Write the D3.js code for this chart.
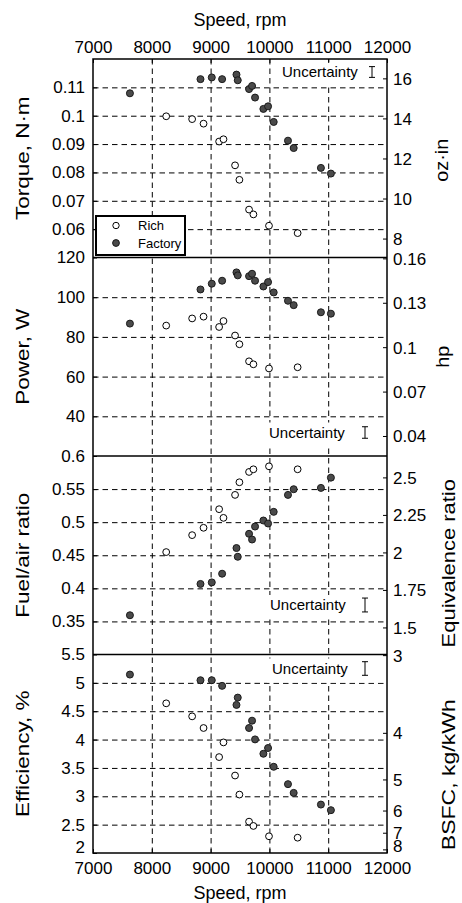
<!DOCTYPE html>
<html>
<head>
<meta charset="utf-8">
<script src="https://cdn.jsdelivr.net/npm/d3@7"></script>
<style>
  body { margin: 0; background: #fff; }
  svg { display: block; font-family: "Liberation Sans", Arial, Helvetica, sans-serif; }
</style>
</head>
<body>
<div id="chart"></div>
<script>
// engine speed of each test point, rpm
const speedRich = [8245, 8686, 8880, 9145, 9219, 9416, 9490, 9654, 9728, 9993, 10480];
const speedFactory = [7628, 8828, 9020, 9196, 9440, 9462, 9654, 9705, 9756, 9898, 9977, 10073, 10316, 10413, 10876, 11046];

// measured values
const torqueRich = [0.0998, 0.0988, 0.0972, 0.0909, 0.0917, 0.0825, 0.0774, 0.0669, 0.0652, 0.0612, 0.0586];
const torqueFactory = [0.1079, 0.1129, 0.1135, 0.1129, 0.1145, 0.1125, 0.1094, 0.1105, 0.1064, 0.1024, 0.1033, 0.0978, 0.0912, 0.0886, 0.0816, 0.0796];
const powerRich = [85.7, 89.3, 90.2, 85.0, 88.0, 80.7, 76.3, 67.7, 66.2, 64.1, 64.7];
const powerFactory = [86.7, 103.9, 106.8, 108.3, 112.5, 111.0, 110.6, 111.8, 108.3, 105.4, 107.6, 102.4, 98.2, 96.0, 92.4, 91.7];
const faRich = [0.4548, 0.4804, 0.4915, 0.5196, 0.5065, 0.5412, 0.5603, 0.5759, 0.5799, 0.5844, 0.5799];
const faFactory = [0.3593, 0.4066, 0.4090, 0.4221, 0.4609, 0.4477, 0.4824, 0.4738, 0.4934, 0.5025, 0.4980, 0.5156, 0.5412, 0.5498, 0.5518, 0.5673];
const effRich = [4.639, 4.409, 4.204, 3.691, 3.950, 3.366, 3.030, 2.553, 2.477, 2.295, 2.270];
const effFactory = [5.146, 5.046, 5.046, 4.947, 4.611, 4.740, 4.204, 4.333, 4.003, 3.750, 3.851, 3.520, 3.214, 3.060, 2.854, 2.755];

// half height of the "Uncertainty" bar in each panel, data units
const uncertainty = [0.0019, 2.9, 0.0105, 0.12];

// tick labels
const speedTicks = [7000, 8000, 9000, 10000, 11000, 12000];
const torqueTicks = [0.06, 0.07, 0.08, 0.09, 0.1, 0.11];
const ozinTicks = [8, 10, 12, 14, 16];
const powerTicks = [40, 60, 80, 100, 120];
const hpTicks = [0.04, 0.07, 0.1, 0.13, 0.16];
const faTicks = [0.35, 0.4, 0.45, 0.5, 0.55, 0.6];
const phiTicks = [1.5, 1.75, 2, 2.25, 2.5];
const effTicks = [2, 2.5, 3, 3.5, 4, 4.5, 5, 5.5];
const bsfcTicks = [3, 4, 5, 6, 7, 8];

const width = 462, height = 903;
const plotLeft = 93, plotRight = 387, plotTop = 59, plotBottom = 853;
const panelH = (plotBottom - plotTop) / 4;

const panels = [
  { domain: [0.05, 0.12], rich: torqueRich, factory: torqueFactory, ticks: torqueTicks,
    rTicks: ozinTicks, toLeft: v => v / 141.6, label: "Torque, N·m", rLabel: "oz·in",
    rx: 448, rdy: 2, rs: 1.1 },
  { domain: [20, 120], rich: powerRich, factory: powerFactory, ticks: powerTicks,
    rTicks: hpTicks, toLeft: v => v * 745.7, label: "Power, W", rLabel: "hp",
    rx: 449, rdy: 0, rs: 1.1 },
  { domain: [0.3, 0.6], rich: faRich, factory: faFactory, ticks: faTicks,
    rTicks: phiTicks, toLeft: v => v / 4.41, label: "Fuel/air ratio", rLabel: "Equivalence ratio",
    rx: 455, rdy: 8, rs: 1.22 },
  { domain: [2, 5.5], rich: effRich, factory: effFactory, ticks: effTicks,
    rTicks: bsfcTicks, toLeft: v => 16.44 / v, label: "Efficiency, %", rLabel: "BSFC, kg/kWh",
    rx: 455, rdy: 21, rs: 1.28 }
];
// where the uncertainty note sits in each panel: [text x, baseline y offset from panel top]
const notePos = [[282, 18], [269, 180], [270, 154], [272, 19]];

const svg = d3.select("#chart").append("svg")
  .attr("width", width).attr("height", height)
  .attr("viewBox", [0, 0, width, height]);

const x = d3.scaleLinear().domain([7000, 12000]).range([plotLeft, plotRight]);

// vertical grid
svg.append("g")
  .attr("transform", `translate(0,${plotBottom})`)
  .call(d3.axisBottom(x).tickValues([8000, 9000, 10000, 11000]).tickSize(-(plotBottom - plotTop)).tickFormat(""))
  .call(g => g.select(".domain").remove())
  .call(g => g.selectAll(".tick line").attr("stroke", "#000").attr("stroke-dasharray", "5.5,4"));

panels.forEach((p, i) => {
  const y0 = plotTop + i * panelH, y1 = y0 + panelH;
  const y = d3.scaleLinear().domain(p.domain).range([y1, y0]);
  const g = svg.append("g");

  // horizontal grid
  g.append("g")
    .attr("transform", `translate(${plotLeft},0)`)
    .call(d3.axisLeft(y).tickValues(p.ticks.filter(t => t > p.domain[0] && t < p.domain[1]))
      .tickSize(-(plotRight - plotLeft)).tickFormat(""))
    .call(g => g.select(".domain").remove())
    .call(g => g.selectAll(".tick line").attr("stroke", "#000").attr("stroke-dasharray", "5.5,4"));

  // white box behind the uncertainty note
  const [nx, ny] = notePos[i];
  g.append("rect")
    .attr("x", nx - 5).attr("y", y0 + ny - 15)
    .attr("width", plotRight - 2 - (nx - 5)).attr("height", 24)
    .attr("fill", "#fff");
  g.append("text")
    .attr("x", nx).attr("y", y0 + ny)
    .attr("font-size", 15)
    .text("Uncertainty");
  const ex = i === 0 ? 372 : 365;
  const eyMid = y0 + ny - 5;
  const halfPx = Math.abs(y(p.domain[0] + uncertainty[i]) - y(p.domain[0]));
  const eb = g.append("g").attr("stroke", "#000").attr("stroke-width", 1);
  eb.append("line").attr("x1", ex).attr("x2", ex).attr("y1", eyMid - halfPx).attr("y2", eyMid + halfPx);
  eb.append("line").attr("x1", ex - 3).attr("x2", ex + 3).attr("y1", eyMid - halfPx).attr("y2", eyMid - halfPx);
  eb.append("line").attr("x1", ex - 3).attr("x2", ex + 3).attr("y1", eyMid + halfPx).attr("y2", eyMid + halfPx);

  // points
  g.append("g").selectAll("circle")
    .data(d3.range(speedRich.length))
    .join("circle")
      .attr("cx", j => x(speedRich[j]))
      .attr("cy", j => y(p.rich[j]))
      .attr("r", 3.4)
      .attr("fill", "#fff").attr("stroke", "#000").attr("stroke-width", 1);
  g.append("g").selectAll("circle")
    .data(d3.range(speedFactory.length))
    .join("circle")
      .attr("cx", j => x(speedFactory[j]))
      .attr("cy", j => y(p.factory[j]))
      .attr("r", 3.5)
      .attr("fill", "#4a4a4a").attr("stroke", "#1a1a1a").attr("stroke-width", 1);

  // left axis
  g.append("g")
    .attr("transform", `translate(${plotLeft},0)`)
    .call(d3.axisLeft(y).tickValues(p.ticks).tickSize(-4).tickPadding(8).tickFormat(d => d3.format("")(d)))
    .call(g => g.select(".domain").remove())
    .call(g => g.selectAll("text").attr("font-size", 17).attr("font-family", null).attr("fill", "#000"))
    .call(g => g.selectAll(".tick line").attr("stroke", "#000"))
    // the label at the very bottom of the frame sits just above it
    .call(g => g.selectAll(".tick text").filter(d => i === 3 && d === p.domain[0]).attr("dy", "-0.05em"));

  // right axis, same pixel scale expressed in the other unit
  const ry = v => y(p.toLeft(v));
  const rg = g.append("g").attr("transform", `translate(${plotRight},0)`);
  const rt = rg.selectAll("g").data(p.rTicks).join("g")
    .attr("transform", d => `translate(0,${ry(d)})`);
  rt.append("line").attr("x2", -4).attr("stroke", "#000");
  rt.append("text").attr("x", 6).attr("dy", (d, j) => i === 3 && j === p.rTicks.length - 1 ? "0.12em" : "0.35em")
    .attr("font-size", 17).text(d => d);

  // axis titles (stretched along the text like the original)
  svg.append("text")
    .attr("transform", `translate(29,${(y0 + y1) / 2}) rotate(-90) scale(1.25,1)`)
    .attr("text-anchor", "middle").attr("font-size", 18)
    .text(p.label);
  svg.append("text")
    .attr("transform", `translate(${p.rx},${(y0 + y1) / 2 + p.rdy}) rotate(-90) scale(${p.rs},1)`)
    .attr("text-anchor", "middle").attr("font-size", 18)
    .text(p.rLabel);

  // panel separator
  if (i > 0) svg.append("line")
    .attr("x1", plotLeft).attr("x2", plotRight).attr("y1", y0).attr("y2", y0)
    .attr("stroke", "#000").attr("stroke-width", 1.5);
});

// top and bottom speed axes
svg.append("g")
  .attr("transform", `translate(0,${plotTop})`)
  .call(d3.axisTop(x).tickValues(speedTicks).tickSize(-4).tickPadding(6).tickFormat(d3.format("d")))
  .call(g => g.select(".domain").remove())
  .call(g => g.selectAll("text").attr("font-size", 17).attr("font-family", null).attr("fill", "#000"));
svg.append("g")
  .attr("transform", `translate(0,${plotBottom})`)
  .call(d3.axisBottom(x).tickValues(speedTicks).tickSize(-4).tickPadding(9).tickFormat(d3.format("d")))
  .call(g => g.select(".domain").remove())
  .call(g => g.selectAll("text").attr("font-size", 17).attr("font-family", null).attr("fill", "#000"));

svg.append("text").attr("x", (plotLeft + plotRight) / 2).attr("y", 26)
  .attr("text-anchor", "middle").attr("font-size", 18).text("Speed, rpm");
svg.append("text").attr("x", (plotLeft + plotRight) / 2).attr("y", 899)
  .attr("text-anchor", "middle").attr("font-size", 18).text("Speed, rpm");

// frame
svg.append("rect")
  .attr("x", plotLeft).attr("y", plotTop).attr("width", plotRight - plotLeft).attr("height", plotBottom - plotTop)
  .attr("fill", "none").attr("stroke", "#000").attr("stroke-width", 1.5);

// legend
const lg = svg.append("g").attr("transform", "translate(96,216)");
lg.append("rect").attr("width", 89).attr("height", 39)
  .attr("fill", "#fff").attr("stroke", "#000").attr("stroke-width", 2);
lg.append("circle").attr("cx", 20).attr("cy", 9.5).attr("r", 3.2)
  .attr("fill", "#fff").attr("stroke", "#000");
lg.append("circle").attr("cx", 20).attr("cy", 27).attr("r", 3.4)
  .attr("fill", "#4a4a4a").attr("stroke", "#1a1a1a");
lg.append("text").attr("x", 42).attr("y", 14).attr("font-size", 13).text("Rich");
lg.append("text").attr("x", 42).attr("y", 32).attr("font-size", 13).text("Factory");
</script>
</body>
</html>
